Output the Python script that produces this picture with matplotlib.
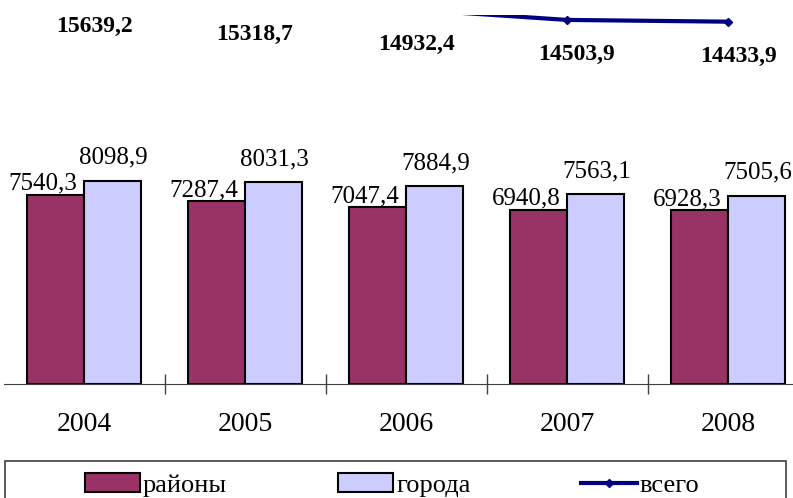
import matplotlib
matplotlib.use("Agg")
import matplotlib.pyplot as plt
import matplotlib.patches as mpatches
import numpy as np

years = ["2004", "2005", "2006", "2007", "2008"]
rayony = [7540.3, 7287.4, 7047.4, 6940.8, 6928.3]
goroda = [8098.9, 8031.3, 7884.9, 7563.1, 7505.6]
vsego = [15639.2, 15318.7, 14932.4, 14503.9, 14433.9]

def fmt(v):
    return ("%.1f" % v).replace(".", ",")

plt.rcParams['font.family'] = ['Liberation Serif', 'DejaVu Serif']

W, H = 793, 498
fig = plt.figure(figsize=(W / 100, H / 100), dpi=100)
# axes runs a bit past the right edge, like the cropped original
ax = fig.add_axes([3.5 / W, 114 / H, 805 / W, 369 / H])

x = np.arange(len(years))
bw = 0.357
b1 = ax.bar(x - bw / 2, rayony, bw, color='#993366', edgecolor='black', linewidth=1.5, label='районы')
b2 = ax.bar(x + bw / 2, goroda, bw, color='#CCCCFF', edgecolor='black', linewidth=1.5, label='города')
ln, = ax.plot(x, vsego, color='#000080', linewidth=3, marker='D', markersize=4, label='всего')

for i in range(len(years)):
    ax.annotate(fmt(rayony[i]), (x[i] - bw / 2, rayony[i]), xytext=(-12, 5),
                textcoords='offset pixels', ha='center', va='baseline', fontsize=18)
    ax.annotate(fmt(goroda[i]), (x[i] + bw / 2, goroda[i]), xytext=(1, 17),
                textcoords='offset pixels', ha='center', va='baseline', fontsize=18)
    ax.annotate(fmt(vsego[i]), (x[i], vsego[i]), xytext=(10, -35),
                textcoords='offset pixels', ha='center', va='center', fontsize=17,
                fontweight='bold', annotation_clip=False)

ax.set_xlim(-0.5, 4.5)
ax.set_ylim(0, 14700)
for s in ['top', 'right', 'left']:
    ax.spines[s].set_visible(False)
ax.spines['bottom'].set_color('#404040')
ax.set_yticks([])
ax.set_xticks(x + 0.5)
ax.set_xticklabels([])
ax.set_xticks(x, minor=True)
ax.set_xticklabels(years, minor=True, fontsize=20)
ax.tick_params(axis='x', which='major', direction='inout', length=15, width=1, color='#404040')
ax.tick_params(axis='x', which='minor', length=0, pad=20)

# legend frame
fig.patches.append(mpatches.Rectangle((5 / W, -20 / H), 781 / W, 57 / H, transform=fig.transFigure,
                                      fill=False, edgecolor='#404040', linewidth=1.2))
fig.legend([b1, b2, ln], ['районы', 'города', 'всего'], loc='center', ncol=3,
           bbox_to_anchor=(392 / W, 13 / H), frameon=False, fontsize=19,
           handlelength=2.1, handletextpad=0.1, columnspacing=4.2)

fig.savefig("out.png", dpi=100)
